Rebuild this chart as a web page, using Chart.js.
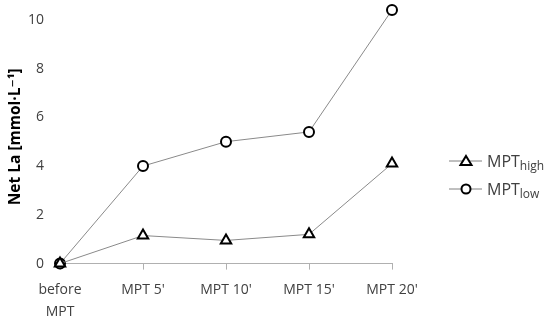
<!DOCTYPE html>
<html>
<head>
<meta charset="utf-8">
<script src="https://cdn.jsdelivr.net/npm/chart.js@4/dist/chart.umd.min.js"></script>
<style>
  html, body { margin: 0; padding: 0; background: #fff; }
  #wrap { width: 550px; height: 323px; }
</style>
</head>
<body>
<div id="wrap"><canvas id="chart" width="550" height="323"></canvas></div>
<script>
const categories = [['before', 'MPT'], "MPT 5'", "MPT 10'", "MPT 15'", "MPT 20'"];
const mptHigh = [0, 1.15, 0.95, 1.2, 4.1];
const mptLow = [0, 4.0, 5.0, 5.4, 10.4];
const yTicks = [0, 2, 4, 6, 8, 10];

const FONT = '"Open Sans", "DejaVu Sans", sans-serif';

// legend with subscripts, drawn by hand
const subLegend = {
  id: 'subLegend',
  afterDraw(chart) {
    const ctx = chart.ctx;
    const items = [
      { name: 'MPT', sub: 'high', style: 'triangle', y: 161 },
      { name: 'MPT', sub: 'low', style: 'circle', y: 189 }
    ];
    ctx.save();
    items.forEach(it => {
      ctx.strokeStyle = '#808080';
      ctx.lineWidth = 1;
      ctx.beginPath();
      ctx.moveTo(449, it.y);
      ctx.lineTo(482, it.y);
      ctx.stroke();
      ctx.fillStyle = '#fff';
      ctx.strokeStyle = '#000';
      ctx.lineWidth = 2;
      ctx.beginPath();
      if (it.style === 'circle') {
        ctx.arc(466, it.y, 4.5, 0, Math.PI * 2);
      } else {
        ctx.moveTo(466, it.y - 5);
        ctx.lineTo(471.5, it.y + 4);
        ctx.lineTo(460.5, it.y + 4);
        ctx.closePath();
      }
      ctx.fill();
      ctx.stroke();
      ctx.fillStyle = '#404040';
      ctx.textBaseline = 'alphabetic';
      ctx.font = '16px ' + FONT;
      ctx.fillText(it.name, 487, it.y + 6);
      const w = ctx.measureText(it.name).width;
      ctx.font = '12px ' + FONT;
      ctx.fillText(it.sub, 487 + w, it.y + 9);
    });
    ctx.restore();
  }
};

new Chart(document.getElementById('chart'), {
  type: 'line',
  data: {
    labels: categories,
    datasets: [{
      label: 'MPT high',
      data: mptHigh,
      borderColor: '#8a8a8a',
      borderWidth: 1,
      pointStyle: 'triangle',
      pointRadius: 6,
      pointBorderWidth: 2,
      pointBorderColor: '#000',
      pointBackgroundColor: '#fff',
      tension: 0,
      clip: false
    }, {
      label: 'MPT low',
      data: mptLow,
      borderColor: '#8a8a8a',
      borderWidth: 1,
      pointStyle: 'circle',
      pointRadius: 5,
      pointBorderWidth: 2,
      pointBorderColor: '#000',
      pointBackgroundColor: '#fff',
      tension: 0,
      clip: false
    }]
  },
  options: {
    responsive: false,
    animation: false,
    layout: { padding: { left: 6, right: 158, top: 10, bottom: -10 } },
    plugins: { legend: { display: false }, tooltip: { enabled: false } },
    scales: {
      x: {
        offset: false,
        grid: { drawOnChartArea: false, color: '#b0b0b0', tickLength: 6 },
        border: { color: '#b0b0b0' },
        ticks: { color: '#404040', font: { family: FONT, size: 14, lineHeight: 1.55 }, padding: 10, maxRotation: 0 }
      },
      y: {
        min: 0,
        max: 10.4,
        afterBuildTicks: axis => { axis.ticks = yTicks.map(v => ({ value: v })); },
        afterFit: axis => { axis.width = 54; },
        // invisible tick marks only give the gap between labels and plot
        grid: { display: false, drawTicks: true, tickLength: 16 },
        border: { display: false },
        ticks: { color: '#404040', font: { family: FONT, size: 14 }, padding: 0 },
        title: {
          display: true,
          text: 'Net La [mmol·L⁻¹]',
          color: '#000',
          font: { family: FONT, size: 15.5, weight: 'bold' },
          padding: { top: 0, bottom: 4 }
        }
      }
    }
  },
  plugins: [subLegend]
});
</script>
</body>
</html>
